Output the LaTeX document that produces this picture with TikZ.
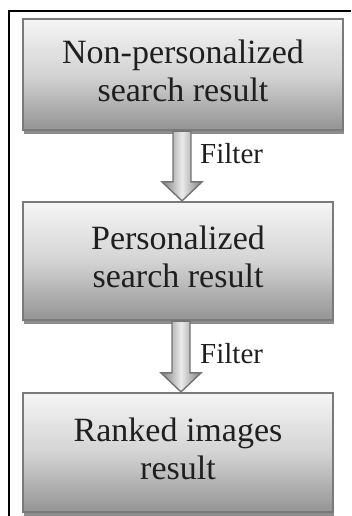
\documentclass[tikz,border=0pt]{standalone}
\usepackage{fontspec}
\setmainfont{Liberation Serif}
\usetikzlibrary{shadows,calc}
\begin{document}
\begin{tikzpicture}[x=1pt,y=-1pt,
  box/.style={draw=black!52, line width=2.2pt, top color=black!4, bottom color=black!42, middle color=black!17,
    drop shadow={shadow xshift=1pt, shadow yshift=-3.5pt, fill=black, opacity=0.45},
    inner sep=0pt, font=\fontsize{34}{38}\selectfont, text=black!88},
  lbl/.style={font=\fontsize{29}{32}\selectfont, text=black!88, inner sep=0pt, anchor=base west},
  blockarrow/.style={draw=black!55, line width=1.4pt, left color=black!50, right color=black!50, middle color=black!8, line join=miter}
]
\useasboundingbox (0,0) rectangle (351,516);
\draw[line width=2.5pt] (9,516) -- (9,11) -- (351,11);

\node[box, minimum width=320, minimum height=111] (b1) at (183,74.5)
  {\begin{tabular}{@{}c@{}}Non-personalized\\search result\end{tabular}};
\node[box, minimum width=310, minimum height=118] (b2) at (178,261)
  {\raisebox{4.5pt}{\begin{tabular}{@{}c@{}}Personalized\\search result\end{tabular}}};
\node[box, minimum width=310, minimum height=119] (b3) at (178,452.5)
  {\raisebox{6pt}{\begin{tabular}{@{}c@{}}Ranked images\\result\end{tabular}}};

\path[blockarrow] let \p1=($(b1.south)+(-1,0)$), \p2=(b2.north) in
  (\x1-9pt,\y1) -- (\x1+9pt,\y1) -- (\x1+9pt,\y2+19pt) -- (\x1+20pt,\y2+19pt)
  -- (\x1,\y2) -- (\x1-20pt,\y2+19pt) -- (\x1-9pt,\y2+19pt) -- cycle;
\path[blockarrow] let \p1=($(b2.south)+(3,0)$), \p2=(b3.north) in
  (\x1-9pt,\y1) -- (\x1+9pt,\y1) -- (\x1+9pt,\y2+19pt) -- (\x1+20pt,\y2+19pt)
  -- (\x1,\y2) -- (\x1-20pt,\y2+19pt) -- (\x1-9pt,\y2+19pt) -- cycle;

\node[lbl] (f1) at (200,163) {Filter};
\node[lbl] (f2) at (200,363) {Filter};
\end{tikzpicture}
\end{document}
